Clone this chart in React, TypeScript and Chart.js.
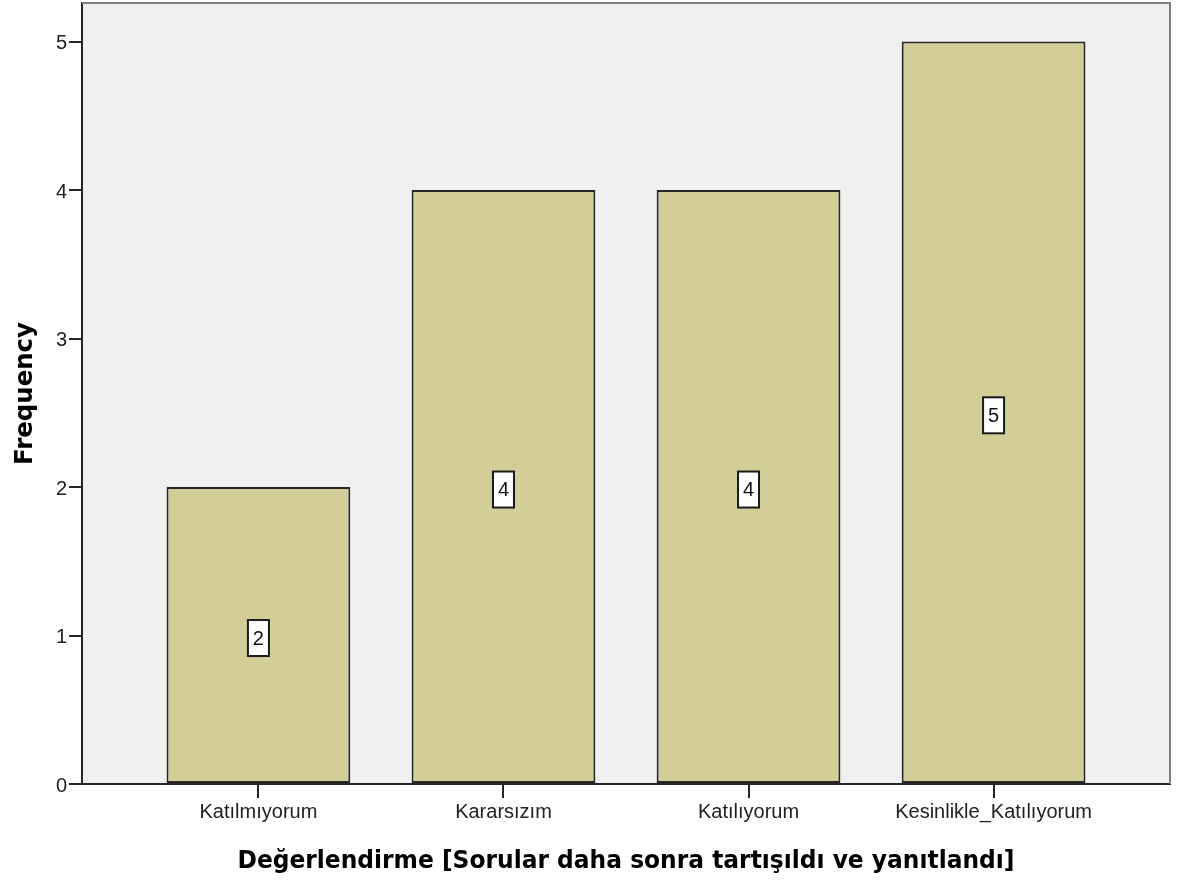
import React, { useEffect, useRef } from "react";
import { Chart, registerables } from "chart.js";

Chart.register(...registerables);

const categories = ["Katılmıyorum", "Kararsızım", "Katılıyorum", "Kesinlikle_Katılıyorum"];
const frequencies = [2, 4, 4, 5];
const yTicks = [0, 1, 2, 3, 4, 5];
const xTitle = "Değerlendirme [Sorular daha sonra tartışıldı ve yanıtlandı]";
const yTitle = "Frequency";

const BAR_COLOR = "#d3ce98";
const PLOT_BG = "#f0f0f0";
const DARK = "#262626";

export default function App() {
  const canvasRef = useRef<HTMLCanvasElement | null>(null);

  useEffect(() => {
    const canvas = canvasRef.current;
    if (!canvas) return;

    const bgPlugin = {
      id: "plotBg",
      beforeDraw(chart: any) {
        const { ctx, chartArea: a } = chart;
        ctx.save();
        ctx.fillStyle = PLOT_BG;
        ctx.fillRect(a.left, a.top, a.right - a.left, a.bottom - a.top);
        ctx.restore();
      },
      afterDraw(chart: any) {
        const { ctx, chartArea: a } = chart;
        ctx.save();
        ctx.strokeStyle = "#808080";
        ctx.lineWidth = 2;
        ctx.beginPath();
        ctx.moveTo(a.left, a.top);
        ctx.lineTo(a.right, a.top);
        ctx.lineTo(a.right, a.bottom);
        ctx.stroke();
        // axis titles
        ctx.fillStyle = "#000";
        ctx.font = "bold 25px 'DejaVu Sans'";
        ctx.textAlign = "center";
        ctx.textBaseline = "alphabetic";
        ctx.fillText(xTitle, (a.left + a.right) / 2, 868, 777);
        ctx.translate(32, 393.5);
        ctx.rotate(-Math.PI / 2);
        ctx.fillText(yTitle, 0, 0, 143);
        ctx.restore();
      },
    };

    const labelPlugin = {
      id: "barLabels",
      afterDatasetsDraw(chart: any) {
        const { ctx } = chart;
        const meta = chart.getDatasetMeta(0);
        const data = chart.data.datasets[0].data as any[];
        ctx.save();
        ctx.font = "20px 'Liberation Sans'";
        ctx.textAlign = "center";
        ctx.textBaseline = "middle";
        meta.data.forEach((el: any, i: number) => {
          const p = el.getProps(["x", "y", "base"], true);
          const cy = (p.y + p.base) / 2 + 3;
          const w = 21;
          const h = 36;
          ctx.fillStyle = "#ffffff";
          ctx.fillRect(p.x - w / 2, cy - h / 2, w, h);
          ctx.strokeStyle = "#1a1a1a";
          ctx.lineWidth = 2;
          ctx.strokeRect(p.x - w / 2, cy - h / 2, w, h);
          ctx.fillStyle = "#111";
          ctx.fillText(String(data[i].y), p.x, cy + 1);
        });
        ctx.restore();
      },
    };

    const chart = new Chart(canvas, {
      type: "bar",
      data: {
        datasets: [
          {
            data: frequencies.map((v, i) => ({ x: i, y: v })),
            backgroundColor: BAR_COLOR,
            borderColor: DARK,
            borderWidth: 2,
            borderSkipped: false,
            categoryPercentage: 1,
            barPercentage: 0.75,
          },
        ],
      },
      options: {
        animation: false,
        responsive: false,
        devicePixelRatio: 1,
        layout: { padding: { left: 0, right: 9, top: 3, bottom: 0 } },
        plugins: {
          legend: { display: false },
          tooltip: { enabled: false },
          title: { display: false },
        },
        scales: {
          x: {
            type: "linear",
            offset: false,
            min: -0.72,
            max: 3.72,
            afterBuildTicks(scale: any) {
              scale.ticks = categories.map((_, i) => ({ value: i }));
            },
            afterFit(scale: any) {
              scale.height = 97;
              scale.paddingLeft = 0;
              scale.paddingRight = 0;
            },
            ticks: {
              autoSkip: false,
              maxRotation: 0,
              padding: 2,
              color: "#222",
              font: { family: "'Liberation Sans'", size: 20 },
              callback: (v: any) => categories[v] ?? "",
            },
            grid: {
              offset: false,
              drawOnChartArea: false,
              drawTicks: true,
              tickLength: 14,
              tickColor: DARK,
              lineWidth: 2,
            },
            border: { display: true, color: DARK, width: 2 },
          },
          y: {
            type: "linear",
            min: 0,
            max: 5.26,
            afterBuildTicks(scale: any) {
              scale.ticks = yTicks.map((v) => ({ value: v }));
            },
            afterFit(scale: any) {
              scale.width = 82;
              scale.paddingTop = 0;
              scale.paddingBottom = 0;
            },
            ticks: {
              padding: 2,
              labelOffset: 2,
              color: "#222",
              font: { family: "'Liberation Sans'", size: 20 },
              callback: (v: any) => String(v),
            },
            grid: {
              drawOnChartArea: false,
              drawTicks: true,
              tickLength: 13,
              tickColor: DARK,
              lineWidth: 2,
            },
            border: { display: true, color: DARK, width: 2 },
          },
        },
      },
      plugins: [bgPlugin, labelPlugin],
    } as any);

    return () => chart.destroy();
  }, []);

  return (
    <div style={{ position: "absolute", left: 0, top: 0, width: 1179, height: 881, background: "#fff" }}>
      <canvas ref={canvasRef} width={1179} height={881} style={{ display: "block" }} />
    </div>
  );
}
